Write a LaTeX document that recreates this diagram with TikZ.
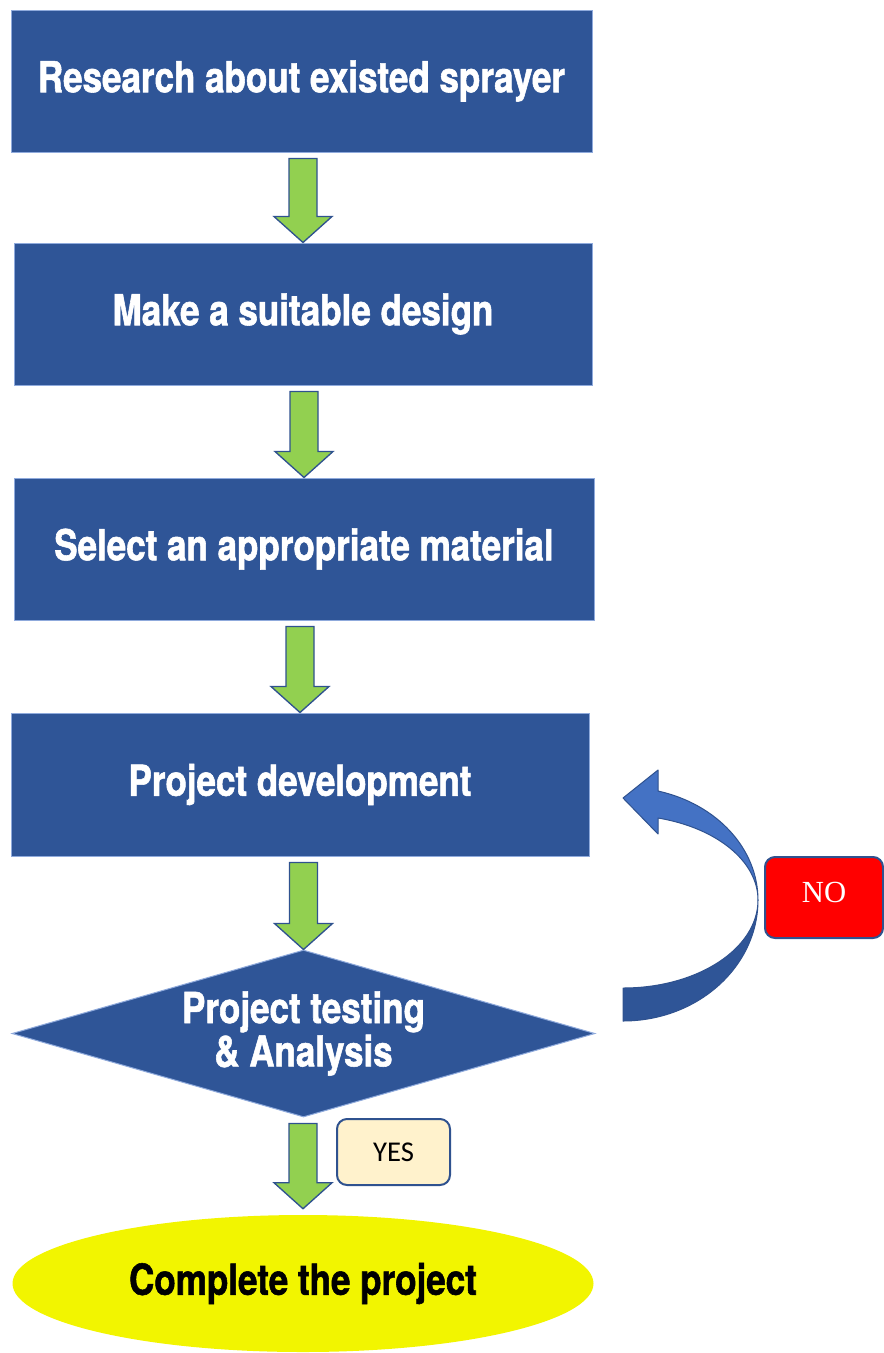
\documentclass[tikz,border=0pt]{standalone}
\usepackage{fontspec}
\usetikzlibrary{shapes.geometric,calc}
\newfontfamily\headfont[FakeStretch=0.82,FakeBold=1.3]{TeX Gyre Heros}
\newfontfamily\labelfont{Carlito}
\newfontfamily\seriffont{Liberation Serif}
\definecolor{boxblue}{RGB}{47,85,151}
\definecolor{boxedge}{RGB}{143,170,220}
\definecolor{arrowgreen}{RGB}{146,208,80}
\definecolor{arrowedge}{RGB}{47,82,143}
\definecolor{loopfront}{RGB}{68,114,196}
\definecolor{loopback}{RGB}{47,85,151}
\definecolor{endyellow}{RGB}{242,245,0}
\definecolor{yescream}{RGB}{255,242,204}
\def\pxu{0.75pt}
% block arrow pointing down from one node to the next
% #1: gap left above the lower node, #2: upper node, #3: lower node
\newcommand\blockarrow[3][0]{%
  \draw[garrow] let \p1=(#2.south), \p2=(#3.north) in
    (\x2-14*\pxu,\y1-6*\pxu) -- (\x2+14*\pxu,\y1-6*\pxu)
    -- (\x2+14*\pxu,\y2+#1*\pxu+26*\pxu) -- (\x2+29*\pxu,\y2+#1*\pxu+26*\pxu)
    -- (\x2,\y2+#1*\pxu) -- (\x2-29*\pxu,\y2+#1*\pxu+26*\pxu)
    -- (\x2-14*\pxu,\y2+#1*\pxu+26*\pxu) -- cycle;}
\begin{document}
\begin{tikzpicture}[x=0.75pt,y=-0.75pt,
  stepbox/.style={rectangle, fill=boxblue, draw=boxedge, line width=0.75pt,
    text=white, inner sep=0pt,
    font=\headfont\bfseries\fontsize{32}{36}\selectfont},
  decision/.style={diamond, fill=boxblue, draw=boxedge, line width=0.75pt,
    text=white, inner sep=0pt, aspect=3.5, align=center,
    font=\headfont\bfseries\fontsize{32}{32.5}\selectfont},
  finish/.style={ellipse, fill=endyellow, inner sep=0pt, text=black,
    font=\headfont\bfseries\fontsize{32}{36}\selectfont},
  garrow/.style={fill=arrowgreen, draw=arrowedge, line width=1pt, line join=miter},
  tagbox/.style={rectangle, rounded corners=7.5pt, draw=arrowedge, line width=1.5pt, inner sep=0pt},
  loopband/.style={draw=arrowedge, line width=0.75pt, line join=round}]
\useasboundingbox (0,0) rectangle (884,1353);

% process steps
\node[stepbox, minimum width=581*\pxu, minimum height=142*\pxu] (research) at (301.5,81) {Research about existed sprayer};
\node[stepbox, minimum width=578*\pxu, minimum height=142*\pxu] (design) at (303,314) {Make a suitable design};
\node[stepbox, minimum width=580*\pxu, minimum height=142*\pxu] (material) at (304,549) {Select an appropriate material};
\node[stepbox, minimum width=578*\pxu, minimum height=143*\pxu] (develop) at (300,784.5) {Project development};
\node[decision, minimum width=583*\pxu, minimum height=167*\pxu] (testing) at (303.5,1033.5) {\raisebox{-2pt}{Project testing}\\\raisebox{-2pt}{\& Analysis}};
\node[finish, minimum width=581*\pxu, minimum height=137*\pxu] (complete) at (303,1283.5) {Complete the project};

% downward block arrows
\blockarrow{research}{design}
\blockarrow{design}{material}
\blockarrow{material}{develop}
\blockarrow{develop}{testing}
\blockarrow[6]{testing}{complete}

% answer tags
\node[tagbox, fill=red, text=white, minimum width=118*\pxu, minimum height=81*\pxu,
  font=\seriffont\fontsize{23}{26}\selectfont] (no) at (824,897.5) {\raisebox{7pt}{NO}};
\node[tagbox, fill=yescream, text=black, minimum width=113*\pxu, minimum height=66*\pxu,
  font=\labelfont\fontsize{21.5}{24}\selectfont] (yes) at (393.5,1152) {YES};

% curved return arrow from the test back to development
\fill[loopback] (623,1021) .. controls (697.6,1021) and (758,966.8) .. (758,900)
  .. controls (758,948.6) and (697.6,988) .. (623,988) -- cycle;
\draw[loopband] (623,1021) .. controls (697.6,1021) and (758,966.8) .. (758,900)
  .. controls (758,948.6) and (697.6,988) .. (623,988) -- cycle;
\filldraw[loopband, fill=loopfront] (758,900) .. controls (758,848.8) and (717,804.1) .. (658,791)
  -- (658,770) -- (623,798) -- (658,834) -- (658,818)
  .. controls (717,827.9) and (758,861.5) .. (758,900) -- cycle;
\end{tikzpicture}
\end{document}
